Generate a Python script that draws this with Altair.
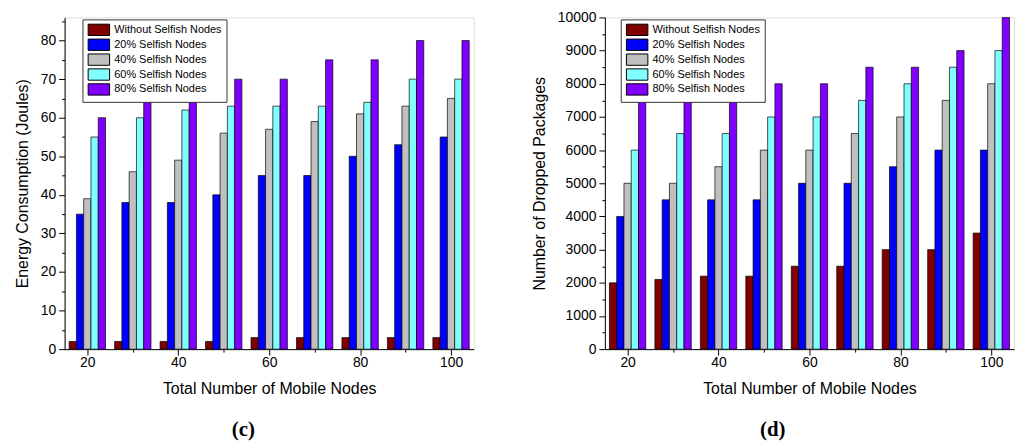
import altair as alt
import pandas as pd

nodes = [20, 30, 40, 50, 60, 70, 80, 90, 100]
series = ["Without Selfish Nodes", "20% Selfish Nodes", "40% Selfish Nodes",
          "60% Selfish Nodes", "80% Selfish Nodes"]
colors = ["#800000", "#0000FF", "#C0C0C0", "#80FFFF", "#8000FF"]

energy_without = [2, 2, 2, 2, 3, 3, 3, 3, 3]
energy_20 = [35, 38, 38, 40, 45, 45, 50, 53, 55]
energy_40 = [39, 46, 49, 56, 57, 59, 61, 63, 65]
energy_60 = [55, 60, 62, 63, 63, 63, 64, 70, 70]
energy_80 = [60, 65, 65, 70, 70, 75, 75, 80, 80]

drop_without = [2000, 2100, 2200, 2200, 2500, 2500, 3000, 3000, 3500]
drop_20 = [4000, 4500, 4500, 4500, 5000, 5000, 5500, 6000, 6000]
drop_40 = [5000, 5000, 5500, 6000, 6000, 6500, 7000, 7500, 8000]
drop_60 = [6000, 6500, 6500, 7000, 7000, 7500, 8000, 8500, 9000]
drop_80 = [7500, 7500, 7500, 8000, 8000, 8500, 8500, 9000, 10000]

x_ticks = [20, 30, 40, 50, 60, 70, 80, 90, 100]
energy_ticks = list(range(0, 90, 5))
drop_ticks = list(range(0, 10500, 500))

FONT = "Liberation Sans"


def long_df(cols):
    rows = []
    for si, (name, vals) in enumerate(zip(series, cols)):
        for n, v in zip(nodes, vals):
            rows.append({"nodes": n, "series": name, "idx": si, "value": v})
    return pd.DataFrame(rows)


def panel(df, ytitle, ydomain, yticks, ymajor, caption, cap_dx, legx, legy):
    color = alt.Color(
        "series:N",
        scale=alt.Scale(domain=series, range=colors),
        sort=series,
        legend=alt.Legend(
            title=None, orient="none", legendX=legx, legendY=legy,
            strokeColor="#333333", fillColor="white", padding=4,
            symbolType="M-1.8,-0.95H1.8V0.95H-1.8Z", symbolSize=144,
            symbolOffset=6,
            symbolStrokeColor="black", symbolStrokeWidth=1,
            symbolOpacity=1, rowPadding=-5,
            labelFont=FONT, labelFontSize=11, labelColor="black",
            labelOffset=9,
        ),
    )
    return (
        alt.Chart(df)
        .transform_calculate(
            x0="datum.nodes + (datum.idx - 2.5) * 1.6",
            x1="datum.nodes + (datum.idx - 1.5) * 1.6",
        )
        .mark_bar(stroke="black", strokeWidth=0.8, strokeOpacity=0.85)
        .encode(
            x=alt.X(
                "x0:Q",
                scale=alt.Scale(domain=[15, 105], nice=False, zero=False),
                axis=alt.Axis(
                    title="Total Number of Mobile Nodes",
                    values=x_ticks,
                    labelExpr="datum.value % 20 === 0 ? datum.label : ''",
                    tickSize={"condition": {"test": "datum.value % 20 === 0", "value": 6}, "value": 3},
                    grid=False, domainColor="black", tickColor="black",
                    labelFont=FONT, labelFontSize=14, labelColor="black",
                    titleFont=FONT, titleFontSize=16, titleFontWeight="normal",
                    titleColor="black", titlePadding=12, labelPadding=0,
                ),
            ),
            x2="x1:Q",
            y=alt.Y(
                "value:Q",
                scale=alt.Scale(domain=ydomain, nice=False),
                axis=alt.Axis(
                    title=ytitle,
                    values=yticks,
                    labelExpr=f"datum.value % {ymajor} === 0 ? datum.label : ''",
                    tickSize={"condition": {"test": f"datum.value % {ymajor} === 0", "value": 6}, "value": 3},
                    format="d",
                    grid=False, domainColor="black", tickColor="black",
                    labelFont=FONT, labelFontSize=14, labelColor="black",
                    titleFont=FONT, titleFontSize=16, titleFontWeight="normal",
                    titleColor="black", titlePadding=10, labelPadding=3,
                ),
            ),
            y2=alt.datum(0),
            color=color,
        )
        .properties(
            width=412, height=334,
            title=alt.TitleParams(
                caption, orient="bottom", anchor="middle", frame="group",
                font="Liberation Serif", fontSize=21, fontWeight="bold",
                color="black", offset=22, dx=cap_dx,
            ),
        )
    )


df_c = long_df([energy_without, energy_20, energy_40, energy_60, energy_80])
df_d = long_df([drop_without, drop_20, drop_40, drop_60, drop_80])

c = panel(df_c, "Energy Consumption (Joules)", [0, 86], energy_ticks, 10, "(c)", -26, 18, 2)
d = panel(df_d, "Number of  Dropped Packages", [0, 10000], drop_ticks, 1000, "(d)", -37, 16, 2)

chart = (
    alt.hconcat(c, d, spacing=56)
    .resolve_scale(color="independent")
    .configure_view(stroke="black", strokeWidth=1)
    .configure(background="white")
    .properties(padding={"left": 5, "top": 0, "right": 5, "bottom": 0})
)

chart.save("out.html", embed_options={"renderer": "svg", "actions": False})
